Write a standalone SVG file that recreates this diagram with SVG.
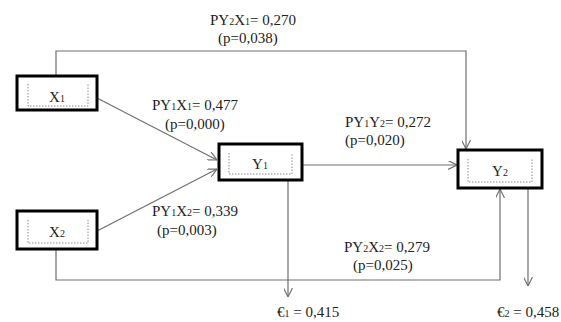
<svg xmlns="http://www.w3.org/2000/svg" width="561" height="322" viewBox="0 0 561 322">
<defs>
<marker id="arr" viewBox="0 0 10 10" refX="10" refY="5" markerWidth="9" markerHeight="9" markerUnits="userSpaceOnUse" orient="auto">
<path d="M0,0 L10,5 L0,10" fill="none" stroke="#6f6f6f" stroke-width="1.3"/>
</marker>
<style>
.box{fill:#fff;stroke:#000;stroke-width:3}
.inner{fill:none;stroke:#8a8a8a;stroke-width:1;stroke-dasharray:1.5,1.5}
.ln{fill:none;stroke:#6f6f6f;stroke-width:1.2}
.t{font-family:"Liberation Serif","Times New Roman",serif;font-size:15px;fill:#222}
.nt{font-family:"Liberation Serif","Times New Roman",serif;font-size:15px;fill:#222;text-anchor:middle}
.s{font-size:10px}
</style>
</defs>
<g id="connectors">
<path class="ln" d="M56,75 V51 H466 V149" marker-end="url(#arr)"/>
<path class="ln" d="M97,98 L217,160" marker-end="url(#arr)"/>
<path class="ln" d="M97,231 L217,169" marker-end="url(#arr)"/>
<path class="ln" d="M302,165 H457" marker-end="url(#arr)"/>
<path class="ln" d="M288,180 V297" marker-end="url(#arr)"/>
<path class="ln" d="M56,250 V280 H500 V189" marker-end="url(#arr)"/>
<path class="ln" d="M528,188 V286" marker-end="url(#arr)"/>
</g>
<g id="X1">
<rect class="box" x="17" y="76" width="80" height="34"/>
<path class="inner" d="M28,84 V106 H88 V84"/>
<text class="nt" x="57" y="102">X<tspan class="s">1</tspan></text>
</g>
<g id="X2">
<rect class="box" x="17" y="211" width="80" height="38"/>
<path class="inner" d="M28,220 V243 H88 V220"/>
<text class="nt" x="57" y="237">X<tspan class="s">2</tspan></text>
</g>
<g id="Y1">
<rect class="box" x="219" y="144" width="83" height="36"/>
<path class="inner" d="M229,153 V174 H292 V153"/>
<text class="nt" x="260" y="169">Y<tspan class="s">1</tspan></text>
</g>
<g id="Y2">
<rect class="box" x="458" y="150" width="84" height="38"/>
<path class="inner" d="M468,159 V182 H532 V159"/>
<text class="nt" x="500" y="176">Y<tspan class="s">2</tspan></text>
</g>
<g id="labels">
<text class="t" x="210" y="25">PY<tspan class="s">2</tspan>X<tspan class="s">1</tspan>= 0,270</text>
<text class="t" x="218" y="43">(p=0,038)</text>
<text class="t" x="152" y="110">PY<tspan class="s">1</tspan>X<tspan class="s">1</tspan>= 0,477</text>
<text class="t" x="165" y="129">(p=0,000)</text>
<text class="t" x="345" y="127">PY<tspan class="s">1</tspan>Y<tspan class="s">2</tspan>= 0,272</text>
<text class="t" x="345" y="145">(p=0,020)</text>
<text class="t" x="152" y="216">PY<tspan class="s">1</tspan>X<tspan class="s">2</tspan>= 0,339</text>
<text class="t" x="157" y="235">(p=0,003)</text>
<text class="t" x="344" y="252">PY<tspan class="s">2</tspan>X<tspan class="s">2</tspan>= 0,279</text>
<text class="t" x="353" y="270">(p=0,025)</text>
<text class="t" x="277" y="317">€<tspan class="s">1</tspan> = 0,415</text>
<text class="t" x="497" y="317">€<tspan class="s">2</tspan> = 0,458</text>
</g>
</svg>
